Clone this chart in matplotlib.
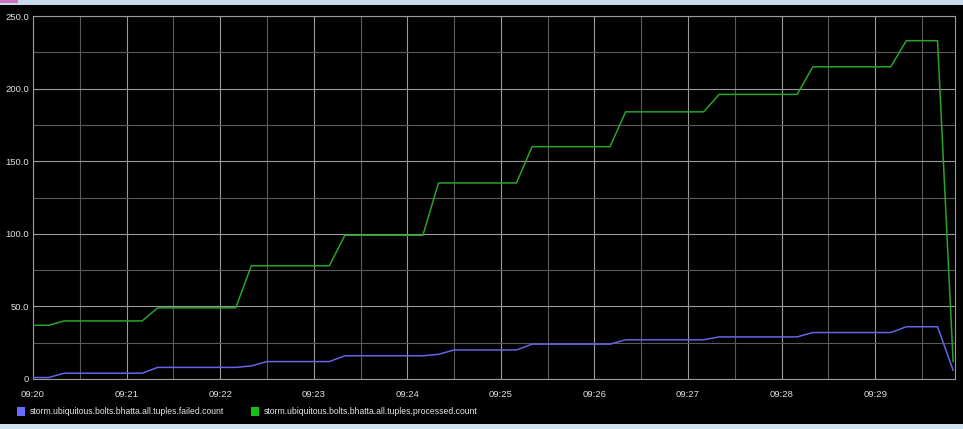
import matplotlib
matplotlib.use("Agg")
import matplotlib.pyplot as plt
from matplotlib.patches import Rectangle
from matplotlib.ticker import MultipleLocator, FixedLocator

# ---- data (10-second samples starting 09:20:00) ----
sample_seconds = 10
failed_count = [1, 1, 4, 4, 4, 4, 4, 4, 8, 8, 8, 8, 8, 8, 9, 12, 12, 12, 12, 12,
                16, 16, 16, 16, 16, 16, 17, 20, 20, 20, 20, 20, 24, 24, 24, 24, 24, 24,
                27, 27, 27, 27, 27, 27, 29, 29, 29, 29, 29, 29, 32, 32, 32, 32, 32, 32,
                36, 36, 36, 6]
processed_count = [37, 37, 40, 40, 40, 40, 40, 40, 49, 49, 49, 49, 49, 49, 78, 78, 78, 78, 78, 78,
                   99, 99, 99, 99, 99, 99, 135, 135, 135, 135, 135, 135, 160, 160, 160, 160, 160, 160,
                   184, 184, 184, 184, 184, 184, 196, 196, 196, 196, 196, 196, 215, 215, 215, 215, 215, 215,
                   233, 233, 233, 12]
series_names = ["storm.ubiquitous.bolts.bhatta.all.tuples.failed.count",
                "storm.ubiquitous.bolts.bhatta.all.tuples.processed.count"]
series_colors = ["#6464e6", "#28a428"]
legend_colors = ["#6b6bff", "#17c017"]
x_tick_labels = ["09:20", "09:21", "09:22", "09:23", "09:24", "09:25", "09:26", "09:27", "09:28", "09:29"]
y_ticks = [0, 50, 100, 150, 200, 250]
y_tick_labels = ["0", "50.0", "100.0", "150.0", "200.0", "250.0"]

W, H = 963, 429
fig = plt.figure(figsize=(W / 100, H / 100), dpi=100, facecolor="black")

# window frame strips
fig.patches.append(Rectangle((0, (H - 5) / H), 1, 5 / H, transform=fig.transFigure,
                             facecolor="#c9d9ec", edgecolor="none", zorder=0))
fig.patches.append(Rectangle((0, 0), 1, 5 / H, transform=fig.transFigure,
                             facecolor="#d3e0ee", edgecolor="none", zorder=0))
fig.patches.append(Rectangle((0, (H - 3) / H), 18 / W, 3 / H, transform=fig.transFigure,
                             facecolor="#d070c0", edgecolor="none", zorder=1))

left, right, top, bottom = 33, 955, 16, 379
ax = fig.add_axes([left / W, (H - bottom) / H, (right - left) / W, (bottom - top) / H])
ax.set_facecolor("black")

t = [i * sample_seconds / 60 for i in range(len(processed_count))]
ax.plot(t, failed_count, color=series_colors[0], lw=1.1, zorder=3)
ax.plot(t, processed_count, color=series_colors[1], lw=1.1, zorder=3)

ax.set_xlim(0, t[-1] + 0.02)
ax.set_ylim(0, 250)
ax.xaxis.set_major_locator(FixedLocator(range(len(x_tick_labels))))
ax.set_xticklabels(x_tick_labels)
ax.xaxis.set_minor_locator(MultipleLocator(0.5))
ax.set_yticks(y_ticks)
ax.set_yticklabels(y_tick_labels)
ax.yaxis.set_minor_locator(MultipleLocator(25))

ax.grid(which="major", color="#9a9a9a", lw=0.8, zorder=1)
ax.grid(which="minor", color="#5a5a5a", lw=0.8, zorder=1)
ax.tick_params(which="both", length=0, colors="#e0e0e0", labelsize=6.8)
ax.tick_params(axis="x", pad=8)
ax.tick_params(axis="y", pad=3)
for lab in ax.get_xticklabels() + ax.get_yticklabels():
    lab.set_fontfamily("Liberation Sans")
for s in ax.spines.values():
    s.set_color("#9a9a9a")
    s.set_linewidth(0.8)

# legend
legend_x = [17, 251]
for name, col, lx in zip(series_names, legend_colors, legend_x):
    fig.patches.append(Rectangle((lx / W, (H - 416) / H), 8 / W, 9 / H, transform=fig.transFigure,
                                 facecolor=col, edgecolor="none"))
    fig.text((lx + 13) / W, (H - 411.5) / H, name, color="#e6e6e6", fontsize=6.2,
             family="Liberation Sans", va="center", ha="left")

fig.savefig("out.png", dpi=100, facecolor="black")
